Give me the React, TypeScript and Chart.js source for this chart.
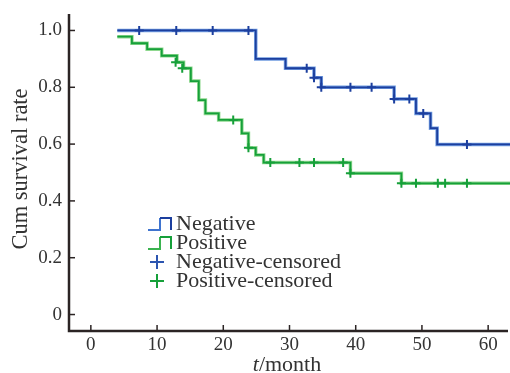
import React, { useEffect, useRef } from "react";
import { Chart, registerables } from "chart.js";

Chart.register(...registerables);

// Kaplan-Meier steps (time in months, cumulative survival)
const negTimes = [4, 24.9, 29.4, 33.7, 34.8, 45.8, 49.1, 51.3, 52.3, 63.3];
const negSurv = [1.0, 0.9, 0.867, 0.834, 0.8, 0.759, 0.708, 0.656, 0.599, 0.599];
const negCensorTimes = [7.3, 12.9, 18.4, 23.8, 32.6, 33.7, 34.8, 39.2, 42.4, 45.8, 48.1, 50.2, 56.8];
const negCensorSurv = [1, 1, 1, 1, 0.867, 0.834, 0.8, 0.8, 0.8, 0.759, 0.759, 0.708, 0.599];

const posTimes = [4, 6.2, 8.5, 10.7, 13.0, 14.0, 15.1, 16.3, 17.3, 19.3, 22.8, 23.8, 24.9, 26.1, 39.2, 46.9, 63.3];
const posSurv = [0.978, 0.955, 0.934, 0.911, 0.888, 0.867, 0.822, 0.755, 0.708, 0.685, 0.638, 0.587, 0.562, 0.535, 0.497, 0.462, 0.462];
const posCensorTimes = [12.8, 13.8, 21.5, 23.8, 27.1, 31.5, 33.7, 38.1, 39.2, 46.9, 49.1, 52.4, 53.5, 56.8];
const posCensorSurv = [0.888, 0.867, 0.685, 0.587, 0.535, 0.535, 0.535, 0.535, 0.497, 0.462, 0.462, 0.462, 0.462, 0.462];

const xTicks = [0, 10, 20, 30, 40, 50, 60];
const yTicks = [0, 0.2, 0.4, 0.6, 0.8, 1.0];
const legendLabels = ["Negative", "Positive", "Negative-censored", "Positive-censored"];

const BLUE = "#1c3f9e";
const BLUE_LIGHT = "#6f9be0";
const GREEN = "#16a03a";
const GREEN_LIGHT = "#8fd88f";
const AXIS = "#2b2424";
const TEXT = "#333333";
const SERIF = "'Liberation Serif', 'Times New Roman', serif";

const pts = (xs: number[], ys: number[]) => xs.map((x, i) => ({ x, y: ys[i] }));

const decorPlugin = {
  id: "decor",
  afterDraw(chart: any) {
    const { ctx, chartArea, scales } = chart;
    const xs = scales.x;
    const ys = scales.y;
    ctx.save();
    // axes
    ctx.strokeStyle = AXIS;
    ctx.lineWidth = 2.5;
    ctx.beginPath();
    ctx.moveTo(chartArea.left, chartArea.top);
    ctx.lineTo(chartArea.left, chartArea.bottom);
    ctx.lineTo(chartArea.right - 2, chartArea.bottom);
    ctx.stroke();
    ctx.lineWidth = 1.5;
    xTicks.forEach((v) => {
      const px = xs.getPixelForValue(v);
      ctx.beginPath();
      ctx.moveTo(px, chartArea.bottom);
      ctx.lineTo(px, chartArea.bottom - 6);
      ctx.stroke();
    });
    yTicks.forEach((v) => {
      const py = ys.getPixelForValue(v);
      ctx.beginPath();
      ctx.moveTo(chartArea.left, py);
      ctx.lineTo(chartArea.left + 6, py);
      ctx.stroke();
    });

    // axis titles
    ctx.fillStyle = TEXT;
    ctx.textBaseline = "middle";
    ctx.save();
    ctx.translate(21, 169);
    ctx.rotate(-Math.PI / 2);
    ctx.textAlign = "center";
    ctx.font = `22.5px ${SERIF}`;
    ctx.fillText("Cum survival rate", 0, 0);
    ctx.restore();

    const cx = 287;
    const cy = 365;
    ctx.font = `italic 22px ${SERIF}`;
    const tw = ctx.measureText("t").width;
    ctx.font = `22px ${SERIF}`;
    const rw = ctx.measureText("/month").width;
    const start = cx - (tw + rw) / 2;
    ctx.textAlign = "left";
    ctx.font = `italic 22px ${SERIF}`;
    ctx.fillText("t", start, cy);
    ctx.font = `22px ${SERIF}`;
    ctx.fillText("/month", start + tw, cy);

    // legend
    const lx = 148;
    const textX = 176;
    const rows = [224, 243, 262, 281];
    ctx.font = `22px ${SERIF}`;
    ctx.textAlign = "left";
    rows.forEach((ry, i) => {
      ctx.fillStyle = TEXT;
      ctx.fillText(legendLabels[i], textX, ry);
    });
    const drawStep = (ry: number, light: string, dark: string) => {
      const b = ry + 6;
      const t = ry - 6;
      ctx.lineWidth = 2;
      ctx.strokeStyle = light;
      ctx.beginPath();
      ctx.moveTo(lx, b);
      ctx.lineTo(lx + 12, b);
      ctx.lineTo(lx + 12, t);
      ctx.stroke();
      ctx.strokeStyle = dark;
      ctx.beginPath();
      ctx.moveTo(lx + 12, t);
      ctx.lineTo(lx + 23, t);
      ctx.lineTo(lx + 23, b);
      ctx.stroke();
    };
    drawStep(rows[0], "#3f74cf", BLUE);
    drawStep(rows[1], "#3ab34f", GREEN);
    const drawPlus = (ry: number, color: string) => {
      ctx.strokeStyle = color;
      ctx.lineWidth = 2;
      ctx.beginPath();
      ctx.moveTo(lx + 2, ry);
      ctx.lineTo(lx + 16, ry);
      ctx.moveTo(lx + 9, ry - 7);
      ctx.lineTo(lx + 9, ry + 7);
      ctx.stroke();
    };
    drawPlus(rows[2], "#2c55b0");
    drawPlus(rows[3], GREEN);
    ctx.restore();
  },
};

export default function App() {
  const ref = useRef<HTMLCanvasElement | null>(null);
  useEffect(() => {
    if (!ref.current) return;
    const chart = new Chart(ref.current, {
      type: "scatter",
      data: {
        datasets: [
          {
            type: "line",
            data: pts(negTimes, negSurv),
            stepped: true,
            borderColor: BLUE_LIGHT,
            borderWidth: 3.5,
            pointRadius: 0,
            fill: false,
            order: 6,
          },
          {
            type: "line",
            data: pts(posTimes, posSurv),
            stepped: true,
            borderColor: GREEN_LIGHT,
            borderWidth: 3.5,
            pointRadius: 0,
            fill: false,
            order: 5,
          },
          {
            type: "line",
            data: pts(negTimes, negSurv),
            stepped: true,
            borderColor: BLUE,
            borderWidth: 1.8,
            pointRadius: 0,
            fill: false,
            order: 4,
          },
          {
            type: "line",
            data: pts(posTimes, posSurv),
            stepped: true,
            borderColor: GREEN,
            borderWidth: 1.8,
            pointRadius: 0,
            fill: false,
            order: 3,
          },
          {
            data: pts(negCensorTimes, negCensorSurv),
            pointStyle: "cross",
            pointRadius: 4.5,
            borderColor: BLUE,
            borderWidth: 2,
            showLine: false,
            order: 2,
          },
          {
            data: pts(posCensorTimes, posCensorSurv),
            pointStyle: "cross",
            pointRadius: 4.5,
            borderColor: GREEN,
            borderWidth: 2,
            showLine: false,
            order: 1,
          },
        ],
      },
      options: {
        responsive: false,
        animation: false,
        events: [],
        layout: { autoPadding: false, padding: { left: 0, right: 0, top: 14, bottom: 0 } },
        plugins: { legend: { display: false }, tooltip: { enabled: false } },
        scales: {
          x: {
            type: "linear",
            min: -3.3,
            max: 63.3,
            grid: { display: false, drawTicks: false },
            border: { display: false },
            afterBuildTicks: (s: any) => {
              s.ticks = xTicks.map((v) => ({ value: v }));
            },
            afterFit: (s: any) => {
              s.height = 42;
              s.paddingLeft = 0;
              s.paddingRight = 0;
            },
            ticks: {
              autoSkip: false,
              maxRotation: 0,
              padding: 3,
              color: TEXT,
              font: { family: SERIF, size: 19 },
              callback: (v: any) => String(v),
            },
          },
          y: {
            type: "linear",
            min: -0.058,
            max: 1.058,
            grid: { display: false, drawTicks: false },
            border: { display: false },
            afterBuildTicks: (s: any) => {
              s.ticks = yTicks.map((v) => ({ value: v }));
            },
            afterFit: (s: any) => {
              s.width = 69;
              s.paddingTop = 0;
              s.paddingBottom = 0;
            },
            ticks: {
              autoSkip: false,
              padding: 7,
              color: TEXT,
              font: { family: SERIF, size: 19 },
              callback: (v: any) => (v === 0 ? "0" : Number(v).toFixed(1)),
            },
          },
        },
      },
      plugins: [decorPlugin],
    });
    return () => chart.destroy();
  }, []);
  return (
    <div style={{ position: "absolute", left: 0, top: 0, width: 510, height: 373, background: "#fff" }}>
      <canvas ref={ref} width={510} height={373} />
    </div>
  );
}
